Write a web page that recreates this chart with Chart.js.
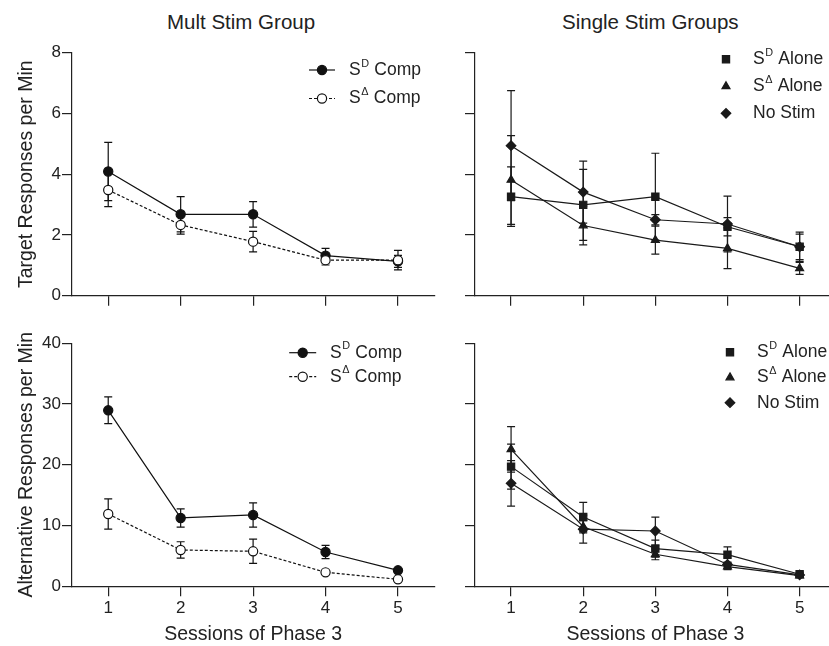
<!DOCTYPE html>
<html>
<head>
<meta charset="utf-8">
<script src="https://cdn.jsdelivr.net/npm/chart.js@4.4.1/dist/chart.umd.min.js"></script>
<style>
html, body { margin: 0; padding: 0; background: #fff; overflow: hidden; width: 829px; height: 646px; }
canvas { position: absolute; }
.ptitle { position: absolute; font: 20.5px "Liberation Sans", Arial, sans-serif; color: #222; line-height: 1; white-space: nowrap; }
</style>
</head>
<body>
<div class="ptitle" style="left:167px; top:12px">Mult Stim Group</div>
<div class="ptitle" style="left:562px; top:12px">Single Stim Groups</div>
<canvas id="c1" width="440" height="320" style="left:0; top:0"></canvas>
<canvas id="c2" width="402" height="320" style="left:440px; top:0"></canvas>
<canvas id="c3" width="440" height="326" style="left:0; top:320px"></canvas>
<canvas id="c4" width="402" height="326" style="left:440px; top:320px"></canvas>
<script>
var sessions = ['1', '2', '3', '4', '5'];
var multLabels = ['S^D Comp', 'S^Δ Comp'];
var singleLabels = ['S^D Alone', 'S^Δ Alone', 'No Stim'];
var targetTicks = [0, 2, 4, 6, 8];
var altTicks = [0, 10, 20, 30, 40];

// target responses per min (mean, error)
var targetSdComp = [4.09, 2.68, 2.68, 1.32, 1.13];
var targetSdCompErr = [0.96, 0.58, 0.42, 0.24, 0.2];
var targetSdeltaComp = [3.48, 2.33, 1.78, 1.17, 1.17];
var targetSdeltaCompErr = [0.55, 0.3, 0.34, 0.16, 0.32];

var targetSdAlone = [3.26, 2.99, 3.26, 2.27, 1.61];
var targetSdAloneErr = [0.98, 1.17, 1.43, 0.3, 0.48];
var targetSdeltaAlone = [3.81, 2.31, 1.83, 1.56, 0.9];
var targetSdeltaAloneErr = [1.46, 0.64, 0.46, 0.67, 0.2];
var targetNoStim = [4.94, 3.41, 2.5, 2.36, 1.61];
var targetNoStimErr = [1.81, 1.02, 0.17, 0.92, 0.42];

// alternative responses per min (mean, error)
var altSdComp = [28.97, 11.25, 11.74, 5.65, 2.63];
var altSdCompErr = [2.2, 1.5, 2.0, 1.1, 0.3];
var altSdeltaComp = [11.9, 5.98, 5.76, 2.3, 1.15];
var altSdeltaCompErr = [2.5, 1.35, 2.0, 0.3, 0.2];

var altSdAlone = [19.7, 11.4, 6.2, 5.2, 1.98];
var altSdAloneErr = [3.7, 2.4, 1.4, 1.3, 0.3];
var altSdeltaAlone = [22.55, 9.8, 5.27, 3.24, 1.76];
var altSdeltaAloneErr = [3.75, 1.0, 0.9, 0.5, 0.2];
var altNoStim = [16.95, 9.4, 9.1, 3.6, 1.87];
var altNoStimErr = [3.75, 2.3, 2.3, 0.4, 0.2];

var fontFamily = '"Liberation Sans", Arial, sans-serif';
var ink = '#222';

// error bars drawn under the lines and markers
var errorBars = {
  id: 'errorBars',
  beforeDatasetsDraw: function (chart) {
    var ctx = chart.ctx, ys = chart.scales.y;
    chart.data.datasets.forEach(function (ds, i) {
      var meta = chart.getDatasetMeta(i);
      ctx.save();
      ctx.strokeStyle = ds.errorColor;
      ctx.lineWidth = 1.2;
      meta.data.forEach(function (pt, j) {
        var e = ds.errors[j];
        if (!e) return;
        var top = ys.getPixelForValue(ds.data[j] + e);
        var bot = ys.getPixelForValue(ds.data[j] - e);
        ctx.beginPath();
        ctx.moveTo(pt.x, top); ctx.lineTo(pt.x, bot);
        ctx.moveTo(pt.x - 4, top); ctx.lineTo(pt.x + 4, top);
        ctx.moveTo(pt.x - 4, bot); ctx.lineTo(pt.x + 4, bot);
        ctx.stroke();
      });
      ctx.restore();
    });
  }
};

// legend with superscripts (S^D, S^Δ)
var supLegend = {
  id: 'supLegend',
  afterDraw: function (chart, args, opts) {
    var ctx = chart.ctx, size = opts.size;
    chart.data.datasets.forEach(function (ds, i) {
      var y = opts.y + i * opts.dy;
      ctx.save();
      if (opts.line) {
        ctx.strokeStyle = ds.borderColor;
        ctx.lineWidth = ds.borderWidth;
        ctx.setLineDash(ds.borderDash || []);
        ctx.beginPath();
        ctx.moveTo(opts.x - opts.line, y);
        ctx.lineTo(opts.x + opts.line, y);
        ctx.stroke();
        ctx.setLineDash([]);
      }
      ctx.fillStyle = ds.pointBackgroundColor;
      ctx.strokeStyle = ds.pointBorderColor;
      ctx.lineWidth = ds.pointBorderWidth;
      Chart.helpers.drawPoint(ctx, {pointStyle: ds.pointStyle, radius: ds.pointRadius, borderWidth: ds.pointBorderWidth, rotation: 0}, opts.x, y);

      ctx.fillStyle = ink;
      ctx.textBaseline = 'middle';
      ctx.textAlign = 'left';
      ctx.font = size + 'px ' + fontFamily;
      var tx = opts.textX;
      var m = /^(.*?)\^(\S)(.*)$/.exec(ds.label);
      if (m) {
        ctx.fillText(m[1], tx, y);
        tx += ctx.measureText(m[1]).width + 0.5;
        ctx.font = (size * 0.62) + 'px ' + fontFamily;
        ctx.fillText(m[2], tx, y - size * 0.36);
        tx += ctx.measureText(m[2]).width + 0.5;
        ctx.font = size + 'px ' + fontFamily;
        ctx.fillText(m[3], tx, y);
      } else {
        ctx.fillText(ds.label, tx, y);
      }
      ctx.restore();
    });
  }
};

function series(label, data, errors, style, order, color) {
  return {
    label: label,
    data: data,
    errors: errors,
    errorColor: color,
    borderColor: color,
    borderWidth: 1.2,
    borderDash: style.dash || [],
    pointStyle: style.shape,
    pointRadius: style.r,
    pointHoverRadius: style.r,
    pointBackgroundColor: style.fill || color,
    pointBorderColor: color,
    pointBorderWidth: 1.2,
    fill: false,
    tension: 0,
    order: order
  };
}

var filledCircle = {shape: 'circle', r: 4.6};
var openCircle = {shape: 'circle', r: 4.6, fill: '#fff', dash: [3, 2]};
var square = {shape: 'rect', r: 5.1};
var triangle = {shape: 'triangle', r: 4.6};
var diamond = {shape: 'rectRot', r: 4.8};

function panelOptions(o) {
  var tickFont = {family: fontFamily, size: 17};
  var titleFont = {family: fontFamily, size: 19.5};
  return {
    responsive: false,
    animation: false,
    devicePixelRatio: 1,
    events: [],
    layout: {padding: {left: 0, top: o.top, right: 2, bottom: 0}},
    plugins: {legend: {display: false}, tooltip: {enabled: false}, supLegend: o.legend},
    scales: {
      x: {
        type: 'category',
        offset: true,
        grid: {drawOnChartArea: false, tickLength: 10, color: ink, lineWidth: 1.2},
        border: {color: ink, width: 1.2},
        ticks: {display: o.xLabels, font: tickFont, color: ink, padding: 2, maxRotation: 0, autoSkip: false},
        title: {display: o.xLabels, text: 'Sessions of Phase 3', font: titleFont, color: ink, padding: {top: 0, bottom: 0}},
        afterFit: function (s) { s.height = o.xh; }
      },
      y: {
        min: o.yTicks[0],
        max: o.yTicks[o.yTicks.length - 1],
        afterBuildTicks: function (s) { s.ticks = o.yTicks.map(function (v) { return {value: v}; }); },
        grid: {drawOnChartArea: false, tickLength: 10, color: ink, lineWidth: 1.2},
        border: {color: ink, width: 1.2},
        ticks: {display: !!o.yTitle, font: tickFont, color: ink, padding: 1},
        title: {display: !!o.yTitle, text: o.yTitle, font: titleFont, color: ink, padding: {top: 15, bottom: 0}},
        afterFit: function (s) { s.width = o.yw; }
      }
    }
  };
}

new Chart(document.getElementById('c1'), {
  type: 'line',
  data: {
    labels: sessions,
    datasets: [
      series(multLabels[0], targetSdComp, targetSdCompErr, filledCircle, 1, '#111'),
      series(multLabels[1], targetSdeltaComp, targetSdeltaCompErr, openCircle, 0, '#111')
    ]
  },
  options: panelOptions({top: 52.7, xh: 24.3, yw: 72, yTicks: targetTicks, xLabels: false,
    yTitle: 'Target Responses per Min',
    legend: {x: 322, y: 70, dy: 28.5, line: 13, textX: 349, size: 17.5}}),
  plugins: [errorBars, supLegend]
});

new Chart(document.getElementById('c2'), {
  type: 'line',
  data: {
    labels: sessions,
    datasets: [
      series(singleLabels[0], targetSdAlone, targetSdAloneErr, square, 2, '#1a1a1a'),
      series(singleLabels[1], targetSdeltaAlone, targetSdeltaAloneErr, triangle, 1, '#1a1a1a'),
      series(singleLabels[2], targetNoStim, targetNoStimErr, diamond, 0, '#1a1a1a')
    ]
  },
  options: panelOptions({top: 52.7, xh: 24.3, yw: 35, yTicks: targetTicks, xLabels: false,
    yTitle: '',
    legend: {x: 286, y: 59.3, dy: 27, line: 0, textX: 313, size: 17.5}}),
  plugins: [errorBars, supLegend]
});

new Chart(document.getElementById('c3'), {
  type: 'line',
  data: {
    labels: sessions,
    datasets: [
      series(multLabels[0], altSdComp, altSdCompErr, filledCircle, 1, '#111'),
      series(multLabels[1], altSdeltaComp, altSdeltaCompErr, openCircle, 0, '#111')
    ]
  },
  options: panelOptions({top: 23.3, xh: 59.7, yw: 72, yTicks: altTicks, xLabels: true,
    yTitle: 'Alternative Responses per Min',
    legend: {x: 302.7, y: 32.7, dy: 24, line: 13.5, textX: 330, size: 17.5}}),
  plugins: [errorBars, supLegend]
});

new Chart(document.getElementById('c4'), {
  type: 'line',
  data: {
    labels: sessions,
    datasets: [
      series(singleLabels[0], altSdAlone, altSdAloneErr, square, 2, '#1a1a1a'),
      series(singleLabels[1], altSdeltaAlone, altSdeltaAloneErr, triangle, 1, '#1a1a1a'),
      series(singleLabels[2], altNoStim, altNoStimErr, diamond, 0, '#1a1a1a')
    ]
  },
  options: panelOptions({top: 23.3, xh: 59.7, yw: 35, yTicks: altTicks, xLabels: true,
    yTitle: '',
    legend: {x: 290, y: 32.3, dy: 25.2, line: 0, textX: 317, size: 17.5}}),
  plugins: [errorBars, supLegend]
});
</script>
</body>
</html>
